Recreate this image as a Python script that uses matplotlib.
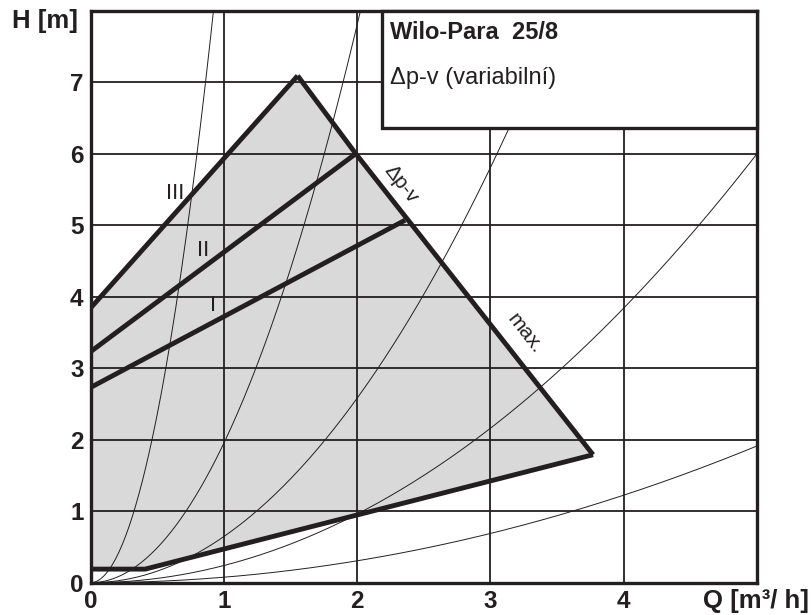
import matplotlib
matplotlib.use("Agg")
import matplotlib.pyplot as plt
import numpy as np
from matplotlib.patches import Polygon, Rectangle

plt.rcParams['font.family'] = ['Liberation Sans', 'DejaVu Sans']

# ---- data ----
x_ticks = [0, 1, 2, 3, 4]
y_ticks = [0, 1, 2, 3, 4, 5, 6, 7]
# system curve coefficients H = k * Q^2
system_k = [9.4, 1.95, 0.645, 0.24, 0.0765]
# operating field (outer boundary)
field_q = [0.0, 0.41, 3.77, 1.99, 1.554, 0.0]
field_h = [0.19, 0.19, 1.79, 6.0, 7.09, 3.84]
# speed lines I, II
line_I_q = [0.0, 2.36]
line_I_h = [2.73, 5.07]
line_II_q = [0.0, 1.99]
line_II_h = [3.23, 6.0]
# max line and lower limit
max_q = [1.554, 1.99, 3.77]
max_h = [7.09, 6.0, 1.79]
low_q = [0.0, 0.41, 3.77]
low_h = [0.19, 0.19, 1.79]
line_III_q = [0.0, 1.554]
line_III_h = [3.84, 7.09]

title1 = "Wilo-Para  25/8"
title2 = "Δp-v (variabilní)"

dark = '#231f20'

fig = plt.figure(figsize=(8.11, 6.15), dpi=100)
ax = fig.add_axes([90.5/811, 1-582.7/615, (757-90.5)/811, (582.7-10.7)/615])
ax.set_xlim(0, 5)
ax.set_ylim(0, 8)

# fill
ax.add_patch(Polygon(list(zip(field_q, field_h)), closed=True,
                     facecolor='#d9d9d9', edgecolor='none', zorder=0.3))

# grid
ax.set_xticks([0, 1, 2, 3, 4, 5])
ax.set_yticks([0, 1, 2, 3, 4, 5, 6, 7, 8])
ax.set_xticklabels([str(v) for v in x_ticks] + [''])
ax.set_yticklabels([str(v) for v in y_ticks] + [''])
ax.set_axisbelow(True)
ax.grid(True, color=dark, linewidth=1.3)
ax.tick_params(length=0, labelsize=17.5, pad=5)
for lab in ax.get_xticklabels() + ax.get_yticklabels():
    lab.set_fontweight('bold')
    lab.set_color(dark)
for s in ax.spines.values():
    s.set_linewidth(2.4)
    s.set_color(dark)

# system curves
qq = np.linspace(0, 5, 400)
for k in system_k:
    ax.plot(qq, k * qq**2, color=dark, linewidth=0.7, zorder=2)

# thick lines
lw = 3.5
for xs, ys in [(line_I_q, line_I_h), (line_II_q, line_II_h), (line_III_q, line_III_h),
               (max_q, max_h), (low_q, low_h)]:
    ax.plot(xs, ys, color=dark, linewidth=lw, zorder=3,
            solid_joinstyle='miter', solid_capstyle='butt', clip_on=True)

# labels on lines
ax.text(0.634, 5.45, 'III', fontsize=16, ha='center', va='center', color=dark, zorder=4)
ax.text(0.845, 4.65, 'II', fontsize=16, ha='center', va='center', color=dark, zorder=4)
ax.text(0.92, 3.88, 'I', fontsize=16, ha='center', va='center', color=dark, zorder=4)
ax.text(2.33, 5.57, 'Δp-v', fontsize=15, ha='center', va='center', rotation=-52,
        rotation_mode='anchor', color=dark, zorder=4)
ax.text(3.26, 3.48, 'max.', fontsize=15, ha='center', va='center', rotation=-52,
        rotation_mode='anchor', color=dark, zorder=4)

# box
ax.add_patch(Rectangle((2.19, 6.36), 5 - 2.19, 8 - 6.36, facecolor='white',
                       edgecolor=dark, linewidth=2.4, zorder=5, clip_on=False))
ax.text(2.245, 7.69, title1, fontsize=17, fontweight='bold', ha='left', va='center',
        color=dark, zorder=6)
ax.text(2.245, 7.06, title2, fontsize=17, ha='left', va='center', color=dark, zorder=6)

# axis titles
fig.text(12/811, 1-21/615, 'H [m]', fontsize=18.5, fontweight='bold', ha='left',
         va='center', color=dark)
fig.text(809/811, 1-601/615, 'Q [m³/ h]', fontsize=18.5, fontweight='bold', ha='right',
         va='center', color=dark)

fig.savefig('out.png', dpi=100)
